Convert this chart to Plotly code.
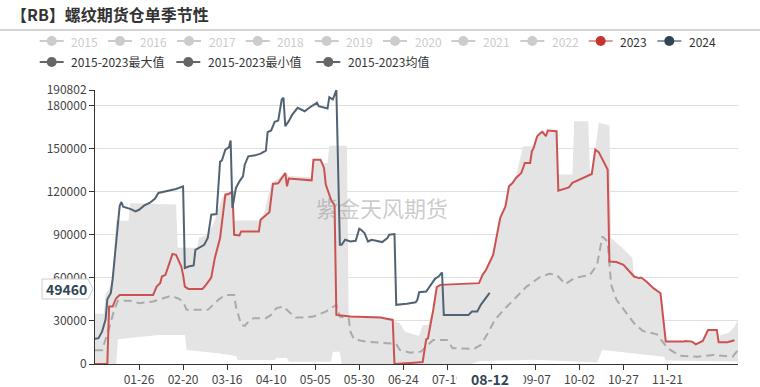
import plotly.graph_objects as go

YEAR = "2024"

# ---------------- data (MM-DD, value) ----------------
d2024 = ["01-01","01-03","01-05","01-07","01-08","01-10","01-11","01-13","01-15","01-16","01-17","01-21","01-24","01-26","01-29",
         "02-01","02-04","02-06","02-09","02-12","02-16","02-20","02-21","02-23","02-26","02-27","02-29",
         "03-03","03-05","03-07","03-10","03-12","03-13","03-15","03-17","03-18","03-19","03-21","03-23","03-25","03-26","03-28",
         "04-01","04-04","04-07","04-08","04-10","04-12","04-14","04-16","04-17","04-18","04-20","04-22","04-25","04-29",
         "05-02","05-06","05-07","05-12","05-13","05-15","05-17","05-19","05-20","05-22","05-25","05-28","05-30","05-31",
         "06-02","06-04","06-06","06-09","06-12","06-15","06-16","06-19","06-20","06-26",
         "07-01","07-02","07-03","07-07","07-09","07-10","07-12","07-14","07-16","07-17","07-31",
         "08-02","08-05","08-07","08-12"]
v2024 = [17500,18000,22500,31000,45000,49500,59000,85000,110000,112800,109500,108000,106300,107400,110400,
         112100,115100,119100,119800,120700,121900,123700,66800,67900,68600,79500,80700,
         83000,87700,104000,104400,141000,141600,149300,150900,155600,108600,122600,127200,130700,138800,144600,
         145300,146500,148600,161400,162600,168600,169500,184200,185400,165600,169100,173700,178400,176000,
         178800,181900,179500,177900,185800,184200,190802,83000,83000,86500,85300,85800,94200,93500,
         91200,85300,86500,85800,84900,87700,90000,90500,41200,41900,
         43000,44700,50000,50400,53900,55100,59300,60900,63700,34200,34200,
         36500,36500,41200,49460]

d2023 = ["01-01","01-08","01-09","01-11","01-13","01-15","02-03","02-05","02-07","02-08","02-10","02-14","02-16","02-19","02-20",
         "02-21","02-23","03-02","03-04","03-07","03-09","03-12","03-15","03-17","03-19","03-20","03-23","03-24",
         "04-03","04-04","04-09","04-11","04-14","04-16","04-18","04-19","04-20",
         "05-03","05-04","05-08","05-10","05-11","05-14","05-16","05-17","05-25",
         "06-11","06-18","06-19","06-30","07-05","07-07","07-08","07-11","07-13","07-15",
         "08-06","08-08","08-10","08-14","08-16","08-18","08-21","08-23","08-25","08-27","08-30",
         "09-01","09-04","09-05","09-06","09-08","09-10","09-11","09-13","09-14","09-19","09-20","09-26","09-28",
         "10-09","10-11","10-13","10-16","10-18","10-19","10-23","10-27","10-30",
         "11-02","11-05","11-06","11-09","11-13","11-17","11-20","11-30",
         "12-01","12-05","12-07","12-11","12-14","12-19","12-20","12-25","12-29"]
v2023 = [0,0,40000,40000,45800,48100,48100,53900,56300,60900,62100,76700,76000,67900,62100,
         53900,52300,52300,55100,60200,73700,87700,117900,118400,120200,90000,89500,92300,
         92300,100500,105600,125400,125800,129600,133000,123700,129100,
         127900,142300,142300,136500,124900,114400,110400,34200,33000,
         32300,30700,0,900,1400,17200,17900,37700,53500,55100,
         56300,62100,65600,76000,87700,101700,109700,123700,126000,129600,133000,
         140000,140000,148100,150500,158600,161000,161700,158600,162600,162100,120700,123000,126100,
         132300,149300,147400,140000,135400,71400,71000,69100,64900,
         60900,59800,60200,57400,52800,49300,15600,15600,
         16000,15600,13700,16000,23700,23700,15100,15100,16500]

d_mean = ["01-01","01-05","01-09","01-12","01-14","01-21","01-26","01-31","02-03","02-07","02-13","02-17","02-20","02-22",
          "03-05","03-11","03-15","03-20","03-21","03-24","03-26","03-29","03-31",
          "04-07","04-10","04-13","04-17","04-21","04-24","04-28",
          "05-04","05-11","05-15","05-17","05-19","05-24","05-25","05-27",
          "06-03","06-15","06-20","06-22","06-28","07-04","07-07","07-11","07-19","07-22",
          "08-03","08-07","08-11","08-15","08-20","08-26","08-29",
          "09-02","09-10","09-15","09-19","09-24","09-29",
          "10-08","10-12","10-15","10-18","10-20","10-23","10-28",
          "11-02","11-07","11-15","11-21","11-28","12-08","12-17","12-28","12-31"]
v_mean = [9500,9500,25000,38000,44000,44000,42300,43000,43500,45100,47400,45800,43500,37700,
          37700,44700,48100,48100,40000,27200,26500,30700,31900,
          31900,34200,38900,40000,35400,32300,32300,
          33000,36500,40000,41200,33000,31900,22500,17200,
          15600,14400,14000,9800,7900,8600,12100,16700,16700,11000,
          10500,13300,21400,30700,37700,45000,48500,
          53900,60900,62800,62100,55600,59800,
          62100,69100,88800,85300,55100,44700,36500,
          28400,23000,20700,11000,5800,5100,6300,5100,9800]

d_max = ["01-01","01-06","01-07","01-09","01-11","01-13","01-20","01-21","02-16","02-17","02-28","02-29",
         "03-05","03-09","03-13","03-15","03-19","03-20","04-03","04-06","04-10","04-16","04-18","04-20",
         "05-03","05-04","05-08","05-10","05-12","05-13","05-23","05-24",
         "06-11","06-18","06-19","06-22","06-25","07-03","07-05","07-08","07-11","07-13","07-15",
         "08-06","08-08","08-10","08-14","08-16","08-18","08-21","08-23","08-25","08-27","08-31",
         "09-06","09-08","09-10","09-11","09-13","09-14","09-19","09-20","09-28","09-29",
         "10-07","10-08","10-09","10-11","10-13","10-19","10-20","10-27",
         "11-01","11-02","11-05","11-06","11-09","11-13","11-17","11-20","11-30",
         "12-01","12-05","12-07","12-11","12-14","12-19","12-20","12-21","12-26","12-29","12-31"]
v_max = [35000,35000,49000,52000,60000,99800,99800,112000,111000,81000,81000,88000,
         90000,100000,115000,119000,121000,100000,100000,105000,126000,131000,134000,131000,
         130000,142300,142300,140000,140000,152000,152000,33500,
         33000,31000,30000,28400,22500,19500,27200,27200,37700,53500,55100,
         56300,62100,65600,76000,87700,101700,109700,123700,126000,131000,151600,
         151600,158600,161000,161700,158600,162600,162100,131900,131900,169000,
         169000,133000,132300,149300,168000,166000,87700,80000,
         74000,60900,59800,60200,57400,52800,49300,15600,15600,
         16000,15600,13700,16000,23700,23700,15500,20000,22000,26000,31000]

d_min = ["01-01","01-13","01-14","02-04","02-06","02-21","02-22","03-11","03-21","03-22","04-12","04-13","04-19","04-20",
         "05-14","05-15","05-19","05-20","08-02","08-06","09-07","10-12","10-15","11-19","11-20","12-31"]
v_min = [0,0,17200,19500,20200,20200,9800,7500,5600,2800,2800,4200,4200,1600,
         1600,8600,8600,0,0,2000,3000,1000,9800,5100,2500,1800]

tick_labels = ["01-26","02-20","03-16","04-10","05-05","05-30","06-24","07-19","08-13","09-07","10-02","10-27","11-21"]
y_ticks = [0, 30000, 60000, 90000, 120000, 150000, 180000, 190802]

legend_row1 = ["2015","2016","2017","2018","2019","2020","2021","2022","2023","2024"]
legend_row2 = ["2015-2023最大值","2015-2023最小值","2015-2023均值"]

title_text = "【RB】螺纹期货仓单季节性"
watermark = "紫金天风期货"
pointer_x = "08-12"
pointer_y = "49460"

# ---------------- layout helpers ----------------
W, H = 760, 387
L, R, T, B = 95, 22, 90, 23
PW, PH = W - L - R, H - T - B


def px(x):
    return (x - L) / PW


def py(y):
    return (H - B - y) / PH


def full(ds):
    return [f"{YEAR}-{d}" for d in ds]


FONT = "Noto Sans CJK SC, Noto Sans, sans-serif"

fig = go.Figure()

# band min/max
fig.add_trace(go.Scatter(x=full(d_min), y=v_min, mode="lines", line=dict(width=0, color="#e4e4e4"),
                         hoverinfo="skip", showlegend=False))
fig.add_trace(go.Scatter(x=full(d_max), y=v_max, mode="lines", line=dict(width=0, color="#e4e4e4"),
                         fill="tonexty", fillcolor="#e4e4e4", hoverinfo="skip", showlegend=False))
# mean
fig.add_trace(go.Scatter(x=full(d_mean), y=v_mean, mode="lines",
                         line=dict(width=2, color="#aaaaaa", dash="8px,5px"),
                         hoverinfo="skip", showlegend=False))
# 2023
fig.add_trace(go.Scatter(x=full(d2023), y=v2023, mode="lines", line=dict(width=2, color="#cb5251"),
                         hoverinfo="skip", showlegend=False))
# 2024
fig.add_trace(go.Scatter(x=full(d2024), y=v2024, mode="lines", line=dict(width=2, color="#516373"),
                         hoverinfo="skip", showlegend=False))

shapes = []
annotations = []

# title + separator
annotations.append(dict(x=px(9), y=py(14), xref="paper", yref="paper", xanchor="left", yanchor="middle",
                        text=f"<b>{title_text}</b>", showarrow=False,
                        font=dict(family=FONT, size=16, color="#333333")))
shapes.append(dict(type="line", xref="paper", yref="paper", x0=px(0), x1=px(W), y0=py(30), y1=py(30),
                   line=dict(color="#aaaaaa", width=1)))

# custom legend
row1_cx = [51.7, 120, 189, 257.7, 326.7, 395, 463.3, 532.3, 600.7, 669.3]
row2_cx = [51.7, 188.3, 328.3]
styles1 = [("#cccccc", "#cccccc", "#cccccc")] * 8 + [("#e39a98", "#c23531", "#333333"),
                                                     ("#8c9aa6", "#2f4554", "#333333")]
styles2 = [("#666666", "#666666", "#333333")] * 3


def legend_item(cx, cy, label, style):
    lc, cc, tc = style
    shapes.append(dict(type="line", xref="paper", yref="paper", x0=px(cx - 12), x1=px(cx + 12),
                       y0=py(cy), y1=py(cy), line=dict(color=lc, width=2)))
    r = 5
    shapes.append(dict(type="circle", xref="paper", yref="paper", x0=px(cx - r), x1=px(cx + r),
                       y0=py(cy + r), y1=py(cy - r), fillcolor=cc, line=dict(color=cc, width=0)))
    annotations.append(dict(x=px(cx + 17.5), y=py(cy), xref="paper", yref="paper", xanchor="left",
                            yanchor="middle", text=label, showarrow=False,
                            font=dict(family=FONT, size=12, color=tc)))


for cx, lab, st in zip(row1_cx, legend_row1, styles1):
    legend_item(cx, 41, lab, st)
for cx, lab, st in zip(row2_cx, legend_row2, styles2):
    legend_item(cx, 62, lab, st)

# watermark
annotations.append(dict(x=px(382), y=py(207), xref="paper", yref="paper", xanchor="center", yanchor="middle",
                        text=watermark, showarrow=False,
                        font=dict(family=FONT, size=22, color="rgba(140,140,140,0.45)")))

# axis pointer labels
shapes.append(dict(type="path", xref="paper", yref="paper",
                   path=f"M{px(42)},{py(279)} L{px(88)},{py(279)} L{px(93)},{py(289)} L{px(88)},{py(299)} L{px(42)},{py(299)} Z",
                   fillcolor="white", line=dict(color="#cccccc", width=1), layer="above"))
annotations.append(dict(x=px(66), y=py(289), xref="paper", yref="paper", xanchor="center", yanchor="middle",
                        text=f"<b>{pointer_y}</b>",
                        showarrow=False, font=dict(family=FONT, size=14, color="#2f4554")))
annotations.append(dict(x=f"{YEAR}-{pointer_x}", y=py(378), xref="x", yref="paper", xanchor="center",
                        yanchor="middle", text=f"<b>{pointer_x}</b>", width=66, height=17,
                        showarrow=False, bgcolor="white", borderpad=0,
                        font=dict(family=FONT, size=14, color="#2f4554")))

fig.update_layout(
    width=W, height=H,
    margin=dict(l=L, r=R, t=T, b=B, autoexpand=False),
    paper_bgcolor="white", plot_bgcolor="white",
    showlegend=False,
    shapes=shapes, annotations=annotations,
    xaxis=dict(type="date", range=[f"{YEAR}-01-01", f"{YEAR}-12-31"],
               tickvals=full(tick_labels), ticktext=tick_labels,
               showgrid=False, zeroline=False, showline=True, linecolor="#333333", linewidth=1,
               ticks="outside", ticklen=5, tickcolor="#333333",
               tickfont=dict(family=FONT, size=12, color="#444444")),
    yaxis=dict(range=[0, 190802], tickvals=y_ticks, ticktext=[str(v) for v in y_ticks],
               showgrid=True, gridcolor="#e0e0e0", gridwidth=1, zeroline=False,
               showline=True, linecolor="#333333", linewidth=1,
               ticks="outside", ticklen=5, tickcolor="#333333",
               tickfont=dict(family=FONT, size=12, color="#444444")),
)

fig.write_html("out.html", config={"displayModeBar": False},
               post_script="document.body.style.margin='0px';document.body.style.overflow='hidden';")
